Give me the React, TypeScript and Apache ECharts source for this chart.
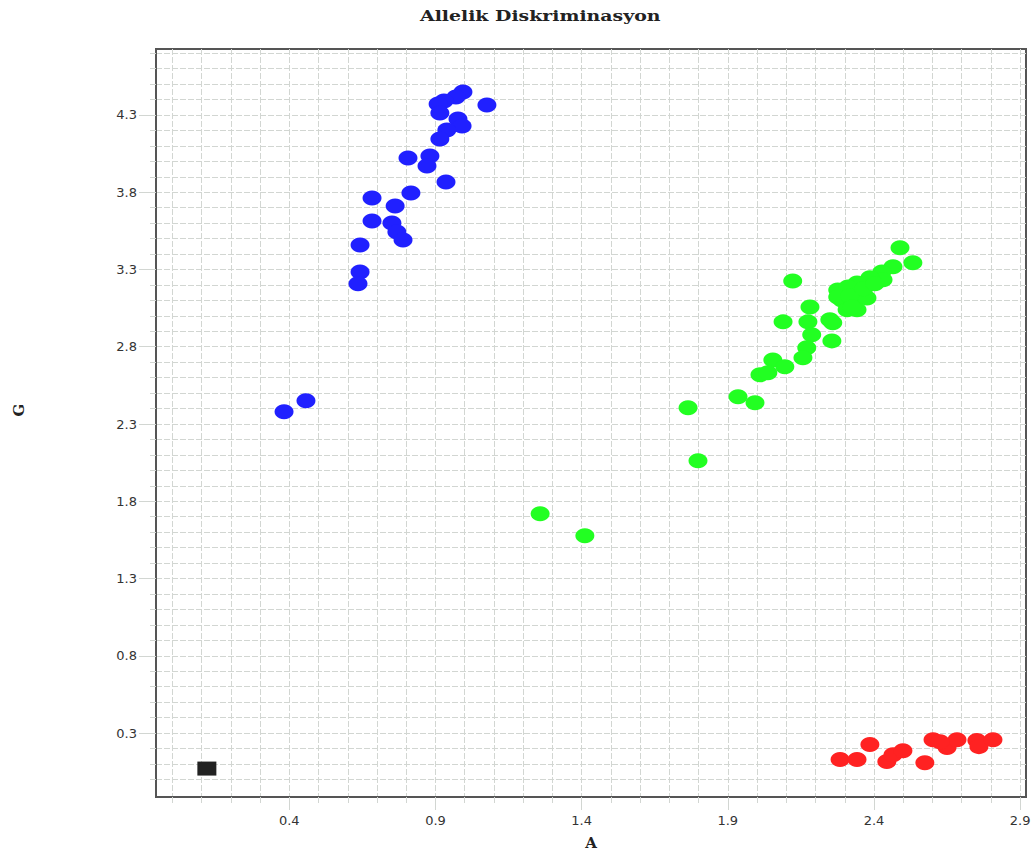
import React, { useEffect, useRef } from "react";
import * as echarts from "echarts";

// Axis ticks
const xMinorTicks = [0.0, 0.1, 0.2, 0.3, 0.4, 0.5, 0.6, 0.7, 0.8, 0.9, 1.0, 1.1, 1.2, 1.3, 1.4, 1.5, 1.6, 1.7, 1.8, 1.9, 2.0, 2.1, 2.2, 2.3, 2.4, 2.5, 2.6, 2.7, 2.8, 2.9];
const xLabelTicks = [0.4, 0.9, 1.4, 1.9, 2.4, 2.9];
const yMinorTicks = [0.0, 0.1, 0.2, 0.3, 0.4, 0.5, 0.6, 0.7, 0.8, 0.9, 1.0, 1.1, 1.2, 1.3, 1.4, 1.5, 1.6, 1.7, 1.8, 1.9, 2.0, 2.1, 2.2, 2.3, 2.4, 2.5, 2.6, 2.7, 2.8, 2.9, 3.0, 3.1, 3.2, 3.3, 3.4, 3.5, 3.6, 3.7, 3.8, 3.9, 4.0, 4.1, 4.2, 4.3, 4.4, 4.5, 4.6, 4.7];
const yLabelTicks = [0.3, 0.8, 1.3, 1.8, 2.3, 2.8, 3.3, 3.8, 4.3];

// Data: [A, G]
const alleleG = [
  [0.994, 4.449], [0.970, 4.416], [0.929, 4.391], [0.909, 4.371], [1.076, 4.365],
  [0.915, 4.313], [0.977, 4.274], [0.991, 4.229], [0.939, 4.203], [0.915, 4.145],
  [0.806, 4.022], [0.881, 4.035], [0.871, 3.970], [0.936, 3.867], [0.816, 3.795],
  [0.683, 3.763], [0.762, 3.711], [0.683, 3.614], [0.751, 3.601], [0.768, 3.543],
  [0.789, 3.491], [0.642, 3.459], [0.642, 3.284], [0.635, 3.207], [0.457, 2.450],
  [0.382, 2.379],
];
const heterozygous = [
  [2.489, 3.440], [2.533, 3.343], [2.465, 3.317], [2.427, 3.284], [2.431, 3.233],
  [2.386, 3.246], [2.342, 3.213], [2.301, 3.168], [2.352, 3.149], [2.290, 3.103],
  [2.328, 3.084], [2.376, 3.116], [2.308, 3.039], [2.342, 3.039], [2.276, 3.168],
  [2.311, 3.187], [2.276, 3.122], [2.317, 3.129], [2.365, 3.175], [2.324, 3.058],
  [2.403, 3.207], [2.122, 3.226], [2.181, 3.058], [2.089, 2.961], [2.174, 2.961],
  [2.249, 2.974], [2.259, 2.955], [2.187, 2.877], [2.256, 2.838], [2.170, 2.793],
  [2.157, 2.728], [2.054, 2.715], [2.095, 2.670], [2.010, 2.618], [2.037, 2.631],
  [1.935, 2.476], [1.993, 2.437], [1.764, 2.405], [1.798, 2.062], [1.258, 1.719],
  [1.411, 1.577],
];
const alleleA = [
  [2.284, 0.128], [2.342, 0.128], [2.386, 0.225], [2.444, 0.115], [2.465, 0.160],
  [2.499, 0.186], [2.574, 0.108], [2.602, 0.257], [2.650, 0.206], [2.684, 0.257],
  [2.752, 0.251], [2.759, 0.212], [2.807, 0.257], [2.626, 0.244],
];
const noTemplate = [[0.118, 0.070]];

const gridColor = "#d2d6d2";

export default function App() {
  const ref = useRef<HTMLDivElement>(null);
  useEffect(() => {
    if (!ref.current) return;
    const chart = echarts.init(ref.current, null, { renderer: "svg" });
    const labelStyle = { color: "#333", fontSize: 13, fontFamily: "DejaVu Sans" };
    const nameFont = "bold 15px 'DejaVu Serif'";
    chart.setOption({
      animation: false,
      backgroundColor: "#ffffff",
      graphic: [
        {
          type: "text", x: 420, y: 8, scaleX: 1.26,
          style: { text: "Allelik Diskriminasyon", font: nameFont, fill: "#222", textAlign: "left", textVerticalAlign: "top" },
        },
        {
          type: "text", x: 591, y: 843,
          style: { text: "A", font: nameFont, fill: "#222", textAlign: "center", textVerticalAlign: "middle" },
        },
        {
          type: "text", x: 19, y: 410, rotation: Math.PI / 2,
          style: { text: "G", font: nameFont, fill: "#222", textAlign: "center", textVerticalAlign: "middle" },
        },
      ],
      grid: { left: 156, right: 9, top: 49, bottom: 58, show: true, borderColor: "#555", borderWidth: 2, backgroundColor: "#fff" },
      xAxis: [
        {
          type: "value", min: -0.056, max: 2.92, position: "bottom",
          axisLine: { show: true, onZero: false, lineStyle: { color: "#555", width: 2 } },
          axisTick: { show: true, customValues: xMinorTicks, length: 6, lineStyle: { color: gridColor } },
          axisLabel: { customValues: xLabelTicks, margin: 17, ...labelStyle },
          splitLine: { show: true, lineStyle: { color: gridColor, type: [6, 2] } },
        },
        {
          type: "value", min: -0.056, max: 2.92, position: "bottom",
          axisLine: { show: false, onZero: false },
          axisTick: { show: true, customValues: xLabelTicks, length: 13, lineStyle: { color: gridColor } },
          axisLabel: { show: false },
          splitLine: { show: false },
        },
      ],
      yAxis: [
        {
          type: "value", min: -0.114, max: 4.727, position: "left",
          axisLine: { show: true, onZero: false, lineStyle: { color: "#555", width: 2 } },
          axisTick: { show: true, customValues: yMinorTicks, length: 6, lineStyle: { color: gridColor } },
          axisLabel: { customValues: yLabelTicks, margin: 19, ...labelStyle },
          splitLine: { show: true, lineStyle: { color: gridColor, type: [6, 2] } },
        },
        {
          type: "value", min: -0.114, max: 4.727, position: "left",
          axisLine: { show: false, onZero: false },
          axisTick: { show: true, customValues: yLabelTicks, length: 17, lineStyle: { color: gridColor } },
          axisLabel: { show: false },
          splitLine: { show: false },
        },
      ],
      series: [
        { type: "scatter", name: "G/G", data: alleleG, symbol: "circle", symbolSize: [19, 15], itemStyle: { color: "#2020ff", opacity: 1 } },
        { type: "scatter", name: "A/G", data: heterozygous, symbol: "circle", symbolSize: [19, 15], itemStyle: { color: "#22ff22", opacity: 1 } },
        { type: "scatter", name: "A/A", data: alleleA, symbol: "circle", symbolSize: [19, 15], itemStyle: { color: "#ff2222", opacity: 1 } },
        { type: "scatter", name: "NTC", data: noTemplate, symbol: "rect", symbolSize: [19, 14], itemStyle: { color: "#222222", opacity: 1 } },
      ],
    });
    return () => chart.dispose();
  }, []);
  return <div ref={ref} style={{ position: "fixed", left: 0, top: 0, width: 1035, height: 855 }} />;
}
